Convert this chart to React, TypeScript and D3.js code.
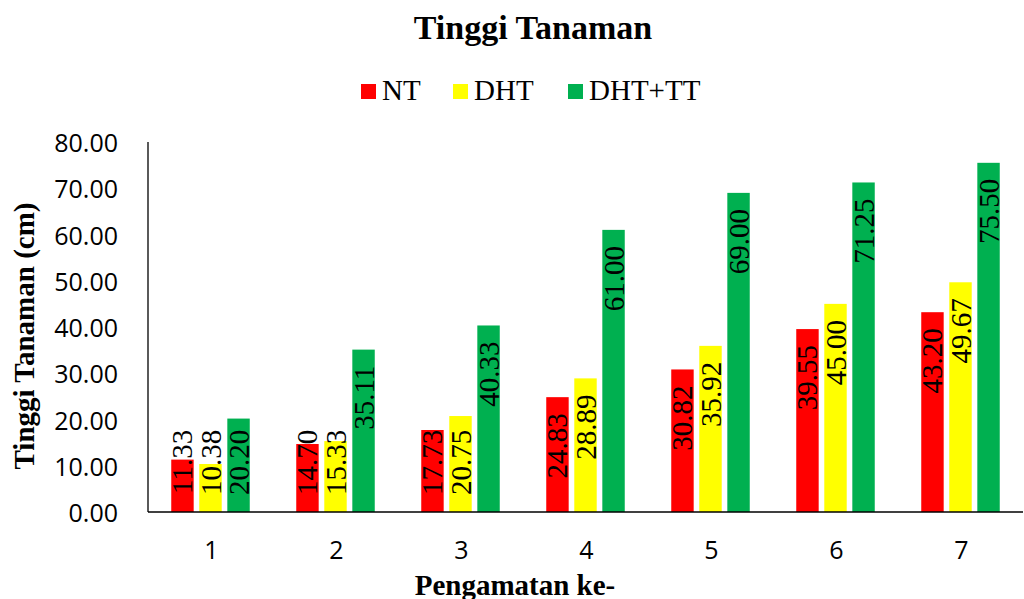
import * as d3 from "d3";

const categories = ["1", "2", "3", "4", "5", "6", "7"];
const seriesNames = ["NT", "DHT", "DHT+TT"];
const ntValues = [11.33, 14.7, 17.73, 24.83, 30.82, 39.55, 43.2];
const dhtValues = [10.38, 15.33, 20.75, 28.89, 35.92, 45.0, 49.67];
const dhtTtValues = [20.2, 35.11, 40.33, 61.0, 69.0, 71.25, 75.5];
const yTicks = [0, 10, 20, 30, 40, 50, 60, 70, 80];
const colors = ["#FF0000", "#FFFF00", "#00B050"];

const W = 1024;
const H = 599;
const serif = "'Liberation Serif', 'Times New Roman', serif";
const sans = "'Open Sans', 'Liberation Sans', sans-serif";

const App = () => {
  const series = [ntValues, dhtValues, dhtTtValues];

  // plot area
  const left = 148;
  const right = 1023;
  const top = 142;
  const bottom = 512;

  const x = d3.scaleBand().domain(categories).range([left, right]);
  const inner = d3
    .scaleBand()
    .domain(seriesNames)
    .range([-39.25, 39.25])
    .paddingInner(0.2);
  const y = d3.scaleLinear().domain([0, 80]).range([bottom, top]);

  const labelSize = 29;
  const labelLen = labelSize * 2.25;

  // legend layout (positions of each entry)
  const legendX = [361, 453, 568];

  return (
    <svg
      width={W}
      height={H}
      style={{ position: "absolute", left: 0, top: 0, background: "#fff" }}
    >
      {/* title */}
      <text
        x={533}
        y={39}
        textAnchor="middle"
        fontFamily={serif}
        fontWeight="bold"
        fontSize={34}
      >
        Tinggi Tanaman
      </text>

      {/* legend */}
      {seriesNames.map((s, i) => (
        <g key={s}>
          <rect x={legendX[i]} y={84} width={15} height={15} fill={colors[i]} />
          <text x={legendX[i] + 21} y={100} fontFamily={serif} fontSize={29}>
            {s}
          </text>
        </g>
      ))}

      {/* y axis ticks */}
      {yTicks.map((t) => (
        <text
          key={t}
          x={118}
          y={y(t)}
          textAnchor="end"
          dominantBaseline="central"
          fontFamily={sans}
          fontSize={25}
          fill="#000"
        >
          {d3.format(".2f")(t)}
        </text>
      ))}

      {/* bars */}
      {series.map((vals, si) =>
        vals.map((v, ci) => {
          const cx = x(categories[ci])! + x.bandwidth() / 2;
          const bx = cx + inner(seriesNames[si])!;
          return (
            <rect
              key={`${si}-${ci}`}
              x={bx}
              y={y(v)}
              width={inner.bandwidth()}
              height={bottom - y(v)}
              fill={colors[si]}
            />
          );
        })
      )}

      {/* data labels */}
      {series.map((vals, si) =>
        vals.map((v, ci) => {
          const cx =
            x(categories[ci])! +
            x.bandwidth() / 2 +
            inner(seriesNames[si])! +
            inner.bandwidth() / 2;
          const ty = Math.min(y(v) + 16, bottom - 17 - labelLen);
          return (
            <text
              key={`l${si}-${ci}`}
              transform={`translate(${cx + 10},${ty}) rotate(-90)`}
              textAnchor="end"
              fontFamily={serif}
              fontSize={labelSize}
              fill="#000"
            >
              {d3.format(".2f")(v)}
            </text>
          );
        })
      )}

      {/* axes lines */}
      <line x1={left} x2={left} y1={top} y2={bottom} stroke="#000" strokeWidth={1.3} />
      <line x1={left} x2={right} y1={bottom} y2={bottom} stroke="#000" strokeWidth={1.3} />

      {/* x ticks */}
      {categories.map((c) => (
        <text
          key={c}
          x={x(c)! + x.bandwidth() / 2 + 1}
          y={549}
          textAnchor="middle"
          dominantBaseline="central"
          fontFamily={sans}
          fontSize={25}
        >
          {c}
        </text>
      ))}

      {/* axis titles */}
      <text
        x={515}
        y={595}
        textAnchor="middle"
        fontFamily={serif}
        fontWeight="bold"
        fontSize={29}
      >
        Pengamatan ke-
      </text>
      <text
        transform={`translate(34,336) rotate(-90)`}
        textAnchor="middle"
        fontFamily={serif}
        fontWeight="bold"
        fontSize={29}
      >
        Tinggi Tanaman (cm)
      </text>
    </svg>
  );
};

export default App;
